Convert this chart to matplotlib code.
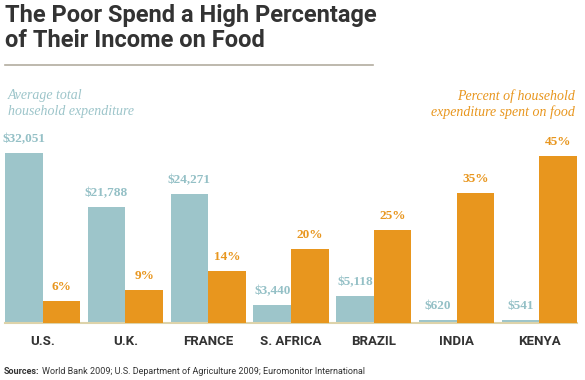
import numpy as np
import matplotlib.pyplot as plt

countries = ['U.S.', 'U.K.', 'FRANCE', 'S. AFRICA', 'BRAZIL', 'INDIA', 'KENYA']
expenditure = [32051, 21788, 24271, 3440, 5118, 620, 541]
food_pct = [6, 9, 14, 20, 25, 35, 45]

teal = '#9dc5ca'
orange = '#e8961e'
dark = '#333333'

fig = plt.figure(figsize=(5.85, 3.8), dpi=100)
ax = fig.add_axes([5/585, 1 - 323/380, 572/585, 223/380])
ax2 = ax.twinx()

x = np.arange(len(countries))
w = 0.453
ax.bar(x - w/2, expenditure, width=w, color=teal, linewidth=0)
ax2.bar(x + w/2, food_pct, width=w, color=orange, linewidth=0)

ax.set_xlim(-w, len(countries) - 1 + w)
ax.set_ylim(0, 42040)
ax2.set_ylim(0, 60.1)

for a in (ax, ax2):
    for s in a.spines.values():
        s.set_visible(False)
    a.set_yticks([])
ax.set_xticks([])
ax.axhline(0, color='#ddd3aa', linewidth=1.5, clip_on=False)

for xi, v in zip(x, expenditure):
    ax.text(xi - w/2, v + 1500, '${:,}'.format(v), ha='center', va='bottom',
            color='#94c0c6', fontsize=9.5, fontweight='bold', family='Liberation Serif')
for xi, v in zip(x, food_pct):
    ax2.text(xi + w/2, v + 2.1, '{}%'.format(v), ha='center', va='bottom',
             color=orange, fontsize=9.5, fontweight='bold', family='Liberation Serif')
for xi, c in zip(x, countries):
    ax.text(xi, -0.055, c, transform=ax.get_xaxis_transform(), ha='center', va='top',
            color=dark, fontsize=9.5, fontweight='bold', family='Roboto')

fig.text(8/585, 1 - 89/380, 'Average total\nhousehold expenditure', ha='left', va='top',
         color=teal, fontsize=10, style='italic', family='Liberation Serif', linespacing=1.25)
fig.text(575/585, 1 - 89/380, 'Percent of household\nexpenditure spent on food', ha='right', va='top',
         color=orange, fontsize=10, style='italic', family='Liberation Serif', linespacing=1.25)

fig.text(5/585, 1 - 4/380, 'The Poor Spend a High Percentage\nof Their Income on Food', ha='left', va='top',
         color=dark, fontsize=17, fontweight='bold', family='Roboto', linespacing=1.12)
fig.add_artist(plt.Line2D([5/585, 373/585], [1 - 65/380, 1 - 65/380], color='#b3ad9f', linewidth=1.2))

src_y = 1 - 371/380
t = fig.text(4/585, src_y, 'Sources:', ha='left', va='center', color=dark,
             fontsize=6.5, fontweight='bold', family='Roboto')
fig.canvas.draw()
bb = t.get_window_extent()
fig.text((bb.x1 + 2) / 585, src_y,
         'World Bank 2009; U.S. Department of Agriculture 2009; Euromonitor International',
         ha='left', va='center', color=dark, fontsize=6.5, family='Roboto')

fig.savefig('out.png', dpi=100)
